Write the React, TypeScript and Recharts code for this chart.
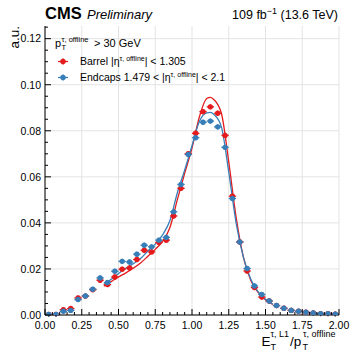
import {
  ComposedChart,
  Line,
  Scatter,
  ErrorBar,
  XAxis,
  YAxis,
  CartesianGrid,
} from "recharts";

const RED = "#e41a1c";
const BLUE = "#377eb8";
const FONT = "'Liberation Sans', Arial, sans-serif";

// bin centres of E_T(L1)/pT(offline), bin width 0.05
const binCenters = [
  0.025, 0.075, 0.125, 0.175, 0.225, 0.275, 0.325, 0.375, 0.425, 0.475,
  0.525, 0.575, 0.625, 0.675, 0.725, 0.775, 0.825, 0.875, 0.925, 0.975,
  1.025, 1.075, 1.125, 1.175, 1.225, 1.275, 1.325, 1.375, 1.425, 1.475,
  1.525, 1.575, 1.625, 1.675, 1.725, 1.775, 1.825, 1.875, 1.925, 1.975,
];

const barrelValues = [
  0.0002, 0.0002, 0.0023, 0.0028, 0.0074, 0.0082, 0.011, 0.0151, 0.0132, 0.0165,
  0.0199, 0.0204, 0.0241, 0.0281, 0.0274, 0.0315, 0.0325, 0.043, 0.055, 0.07,
  0.0789, 0.0883, 0.0904, 0.0876, 0.078, 0.0516, 0.0317, 0.0191, 0.0119, 0.0078,
  0.0061, 0.0041, 0.0029, 0.002, 0.0016, 0.0012, 0.0009, 0.0006, 0.0006, 0.0004,
];

const endcapValues = [
  0.0002, 0.0002, 0.0016, 0.002, 0.0067, 0.0083, 0.0112, 0.0161, 0.0141, 0.019,
  0.0233, 0.023, 0.0264, 0.0303, 0.0296, 0.0325, 0.0337, 0.0448, 0.0567, 0.0697,
  0.077, 0.0837, 0.0842, 0.0817, 0.0728, 0.0506, 0.0317, 0.0202, 0.0126, 0.0089,
  0.0061, 0.0041, 0.0029, 0.002, 0.0016, 0.0012, 0.0009, 0.0006, 0.0006, 0.0004,
];

const halfBin = 0.025;
const statErr = 0.0011;

// fitted curves
const fitX = [
  0.4, 0.45, 0.5, 0.55, 0.6, 0.65, 0.7, 0.75, 0.8, 0.85, 0.9, 0.95, 1.0,
  1.05, 1.1, 1.125, 1.15, 1.2, 1.25, 1.3, 1.35, 1.4, 1.45, 1.5, 1.55,
];
const barrelFit = [
  0.0125, 0.0145, 0.0165, 0.0183, 0.0203, 0.0226, 0.0255, 0.0285, 0.032, 0.038,
  0.05, 0.0615, 0.0725, 0.086, 0.094, 0.0945, 0.0935, 0.0876, 0.0665, 0.0425,
  0.025, 0.015, 0.0098, 0.0066, 0.0046,
];
const endcapFit = [
  0.0132, 0.0155, 0.018, 0.0203, 0.0223, 0.0245, 0.0278, 0.0308, 0.0348, 0.041,
  0.053, 0.0629, 0.0735, 0.084, 0.0878, 0.088, 0.087, 0.0817, 0.062, 0.04,
  0.025, 0.0155, 0.01, 0.0068, 0.0047,
];

const xMajor = [0, 0.25, 0.5, 0.75, 1.0, 1.25, 1.5, 1.75, 2.0];
const xTicks = [
  0, 0.05, 0.1, 0.15, 0.2, 0.25, 0.3, 0.35, 0.4, 0.45, 0.5, 0.55, 0.6, 0.65,
  0.7, 0.75, 0.8, 0.85, 0.9, 0.95, 1.0, 1.05, 1.1, 1.15, 1.2, 1.25, 1.3, 1.35,
  1.4, 1.45, 1.5, 1.55, 1.6, 1.65, 1.7, 1.75, 1.8, 1.85, 1.9, 1.95, 2.0,
];
const yMajor = [0, 0.02, 0.04, 0.06, 0.08, 0.1, 0.12];
const yTicks = [
  0, 0.005, 0.01, 0.015, 0.02, 0.025, 0.03, 0.035, 0.04, 0.045, 0.05, 0.055,
  0.06, 0.065, 0.07, 0.075, 0.08, 0.085, 0.09, 0.095, 0.1, 0.105, 0.11, 0.115,
  0.12, 0.125,
];

const points = (vals: number[]) =>
  binCenters.map((x, i) => ({ x, y: vals[i], ex: halfBin, ey: statErr }));
const curve = (vals: number[]) => fitX.map((x, i) => ({ x, y: vals[i] }));

const isMajor = (v: number, list: number[]) =>
  list.some((m) => Math.abs(m - v) < 1e-6);

const BottomTick = (p: any) => {
  const major = isMajor(p.payload.value, xMajor);
  return (
    <g>
      <line x1={p.x} x2={p.x} y1={p.y} y2={p.y - (major ? 6 : 3)} stroke="#000" />
      {major && (
        <text x={p.x} y={p.y + 13.5} textAnchor="middle" fontSize={10.5} fontFamily={FONT}>
          {p.payload.value.toFixed(2)}
        </text>
      )}
    </g>
  );
};
const TopTick = (p: any) => {
  const major = isMajor(p.payload.value, xMajor);
  return <line x1={p.x} x2={p.x} y1={p.y} y2={p.y + (major ? 6 : 3)} stroke="#000" />;
};
const LeftTick = (p: any) => {
  const major = isMajor(p.payload.value, yMajor);
  return (
    <g>
      <line x1={p.x} x2={p.x + (major ? 6 : 3)} y1={p.y} y2={p.y} stroke="#000" />
      {major && (
        <text x={p.x - 4} y={p.y + 3.8} textAnchor="end" fontSize={10.5} fontFamily={FONT}>
          {p.payload.value.toFixed(2)}
        </text>
      )}
    </g>
  );
};
const RightTick = (p: any) => {
  const major = isMajor(p.payload.value, yMajor);
  return <line x1={p.x} x2={p.x - (major ? 6 : 3)} y1={p.y} y2={p.y} stroke="#000" />;
};

const dot = (color: string) => (p: any) =>
  <circle cx={p.cx} cy={p.cy} r={2.7} fill={color} />;

const LegendMark = ({ x, y, color }: { x: number; y: number; color: string }) => (
  <g stroke={color} strokeWidth={1.3}>
    <line x1={x - 5} x2={x + 5} y1={y} y2={y} />
    <line x1={x} x2={x} y1={y - 3} y2={y + 3} />
    <circle cx={x} cy={y} r={2.7} fill={color} stroke="none" />
  </g>
);

export default function App() {
  return (
    <div style={{ position: "absolute", left: 0, top: 0, width: 351, height: 350, background: "#fff" }}>
      <ComposedChart
        width={351}
        height={350}
        margin={{ top: 26, right: 12, bottom: 0, left: 0 }}
      >
        <CartesianGrid
          stroke="#e3e3e3"
          verticalValues={xMajor}
          horizontalValues={yMajor}
        />
        <XAxis
          type="number"
          dataKey="x"
          domain={[0, 2]}
          ticks={xTicks}
          interval={0}
          height={35}
          tickSize={0}
          tickMargin={0}
          tick={<BottomTick />}
          axisLine={{ stroke: "#000" }}
          allowDataOverflow
        />
        <XAxis
          xAxisId="top"
          orientation="top"
          type="number"
          dataKey="x"
          domain={[0, 2]}
          ticks={xTicks}
          interval={0}
          height={0}
          tickSize={0}
          tickMargin={0}
          tick={<TopTick />}
          axisLine={{ stroke: "#000" }}
          allowDataOverflow
        />
        <YAxis
          type="number"
          dataKey="y"
          domain={[0, 0.1255]}
          ticks={yTicks}
          interval={0}
          width={45}
          tickSize={0}
          tickMargin={0}
          tick={<LeftTick />}
          axisLine={{ stroke: "#000" }}
          allowDataOverflow
        />
        <YAxis
          yAxisId="right"
          orientation="right"
          type="number"
          dataKey="y"
          domain={[0, 0.1255]}
          ticks={yTicks}
          interval={0}
          width={0}
          tickSize={0}
          tickMargin={0}
          tick={<RightTick />}
          axisLine={{ stroke: "#000" }}
          allowDataOverflow
        />
        <Line
          data={curve(barrelFit)}
          dataKey="y"
          type="monotone"
          stroke={RED}
          strokeWidth={1.3}
          dot={false}
          isAnimationActive={false}
        />
        <Line
          data={curve(endcapFit)}
          dataKey="y"
          type="monotone"
          stroke={BLUE}
          strokeWidth={1.3}
          dot={false}
          isAnimationActive={false}
        />
        <Scatter data={points(barrelValues)} shape={dot(RED)} isAnimationActive={false}>
          <ErrorBar dataKey="ex" direction="x" width={0} stroke={RED} strokeWidth={1.3} isAnimationActive={false} />
          <ErrorBar dataKey="ey" direction="y" width={0} stroke={RED} strokeWidth={1.3} isAnimationActive={false} />
        </Scatter>
        <Scatter data={points(endcapValues)} shape={dot(BLUE)} isAnimationActive={false}>
          <ErrorBar dataKey="ex" direction="x" width={0} stroke={BLUE} strokeWidth={1.3} isAnimationActive={false} />
          <ErrorBar dataKey="ey" direction="y" width={0} stroke={BLUE} strokeWidth={1.3} isAnimationActive={false} />
        </Scatter>
      </ComposedChart>

      <svg
        width={351}
        height={350}
        style={{ position: "absolute", left: 0, top: 0, pointerEvents: "none" }}
        fontFamily={FONT}
      >
        <text x={45} y={18.5} fontSize={16.5} fontWeight="bold">CMS</text>
        <text x={87} y={18.5} fontSize={13} fontStyle="italic">Preliminary</text>
        <text x={338} y={18.5} fontSize={12.5} textAnchor="end">
          109 fb<tspan dy={-5} fontSize={9}>−1</tspan>
          <tspan dy={5}> (13.6 TeV)</tspan>
        </text>

        <text transform="translate(18.5,26) rotate(-90)" textAnchor="end" fontSize={13.5}>a.u.</text>

        <text x={55} y={47} fontSize={11}>p</text>
        <text x={61.5} y={50} fontSize={7.5}>T</text>
        <text x={61.5} y={41.5} fontSize={7.5}>τ, offline</text>
        <text x={94} y={47} fontSize={11}>&gt; 30 GeV</text>

        <LegendMark x={63} y={61.5} color={RED} />
        <text x={80} y={65} fontSize={10.5}>
          Barrel |η<tspan dy={-4} fontSize={7}>τ, offline</tspan>
          <tspan dy={4}>| &lt; 1.305</tspan>
        </text>
        <LegendMark x={63} y={77.5} color={BLUE} />
        <text x={80} y={81} fontSize={10.5}>
          Endcaps 1.479 &lt; |η<tspan dy={-4} fontSize={7}>τ, offline</tspan>
          <tspan dy={4}>| &lt; 2.1</tspan>
        </text>

        <text x={261.5} y={346} fontSize={13.5}>E</text>
        <text x={270.5} y={349.5} fontSize={9}>T</text>
        <text x={270.5} y={337} fontSize={9}>τ, L1</text>
        <text x={290} y={346} fontSize={13.5}>/p</text>
        <text x={302.5} y={349.5} fontSize={9}>T</text>
        <text x={303} y={337} fontSize={9}>τ, offline</text>
      </svg>
    </div>
  );
}
